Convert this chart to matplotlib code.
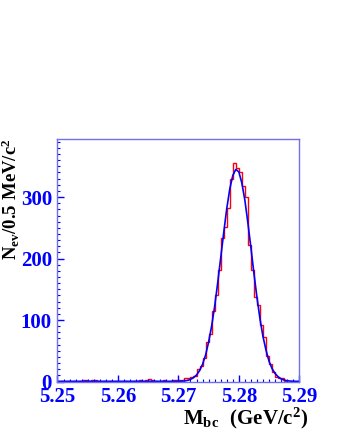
import numpy as np
import matplotlib
matplotlib.use("Agg")
import matplotlib.pyplot as plt
from matplotlib.ticker import MultipleLocator, FormatStrFormatter

plt.rcParams['font.family'] = ['Liberation Serif', 'DejaVu Serif']
plt.rcParams['font.weight'] = 'bold'
plt.rcParams['mathtext.fontset'] = 'custom'
plt.rcParams['mathtext.rm'] = 'Liberation Serif:bold'
plt.rcParams['mathtext.it'] = 'Liberation Serif:bold'
plt.rcParams['mathtext.bf'] = 'Liberation Serif:bold'

# Mbc histogram, 0.5 MeV bins from 5.25 to 5.29 GeV
x_lo = 5.25
x_hi = 5.29
n_bins = 80
counts = [0, 1, 0, 1, 0, 1, 0, 1, 2, 2,
          1, 2, 2, 1, 0, 1, 0, 1, 0, 1,
          0, 0, 1, 0, 0, 1, 1, 2, 1, 3,
          4, 2, 1, 0, 1, 2, 0, 1, 3, 2,
          2, 3, 5, 6, 8, 9, 20, 25, 39, 65,
          77, 114, 141, 182, 234, 252, 283, 329, 355, 347,
          340, 318, 300, 222, 181, 137, 125, 92, 73, 41,
          28, 16, 8, 5, 5, 1, 0, 0, 0, 0]

# fitted curve read at the bin edges
fit_y = [0.3, 0.3, 0.3, 0.3, 0.3, 0.3, 0.3, 0.3, 0.3, 0.3,
         0.3, 0.3, 0.3, 0.3, 0.3, 0.3, 0.3, 0.3, 0.3, 0.3,
         0.3, 0.3, 0.3, 0.3, 0.3, 0.3, 0.3, 0.3, 0.3, 0.3,
         0.3, 0.3, 0.3, 0.3, 0.3, 0.3, 0.3, 0.3, 0.3, 0.3,
         0.3, 0.5, 0.9, 1.8, 3.4, 6.1, 10.6, 17.5, 28, 43,
         64, 90, 122, 160, 201, 242, 281, 313, 335, 345,
         341, 323, 295, 258, 218, 176, 137, 102, 73, 51,
         33, 21, 13, 7.7, 4.3, 2.3, 1.2, 0.7, 0.4, 0.3,
         0.3]

edges = np.linspace(x_lo, x_hi, n_bins + 1)

fig = plt.figure(figsize=(3.37, 4.36), dpi=100)
ax = fig.add_axes([0.1706, 0.125, 0.888 - 0.1706, 0.6805 - 0.125])

ax.stairs(counts, edges, color='red', linewidth=1.0)
ax.plot(edges, fit_y, color='blue', linewidth=1.2)

ax.set_xlim(x_lo, x_hi)
ax.set_ylim(0, 394)

frame = '#7070ee'
for s in ax.spines.values():
    s.set_color(frame)
    s.set_linewidth(1.0)

ax.xaxis.set_major_locator(MultipleLocator(0.01))
ax.xaxis.set_minor_locator(MultipleLocator(0.001))
ax.xaxis.set_major_formatter(FormatStrFormatter('%.2f'))
ax.yaxis.set_major_locator(MultipleLocator(100))
ax.yaxis.set_minor_locator(MultipleLocator(10))

ax.tick_params(which='both', direction='in', colors='blue', top=False, right=False)
ax.tick_params(which='major', length=5, width=1, labelsize=15, pad=4)
ax.tick_params(which='minor', length=2.5, width=0.8)
for lab in ax.get_xticklabels() + ax.get_yticklabels():
    lab.set_fontweight('bold')
    lab.set_color('blue')

fig.text(0.915, 0.040, r'$\mathrm{M_{bc}\ \ (GeV/c^2)}$', fontsize=15,
         ha='right', va='center', color='black')
fig.text(0.032, 0.682, r'$\mathrm{N_{ev}/0.5\ MeV/c^2}$', fontsize=13.5,
         ha='center', va='top', rotation=90, color='black')

fig.savefig('out.png', dpi=100)
